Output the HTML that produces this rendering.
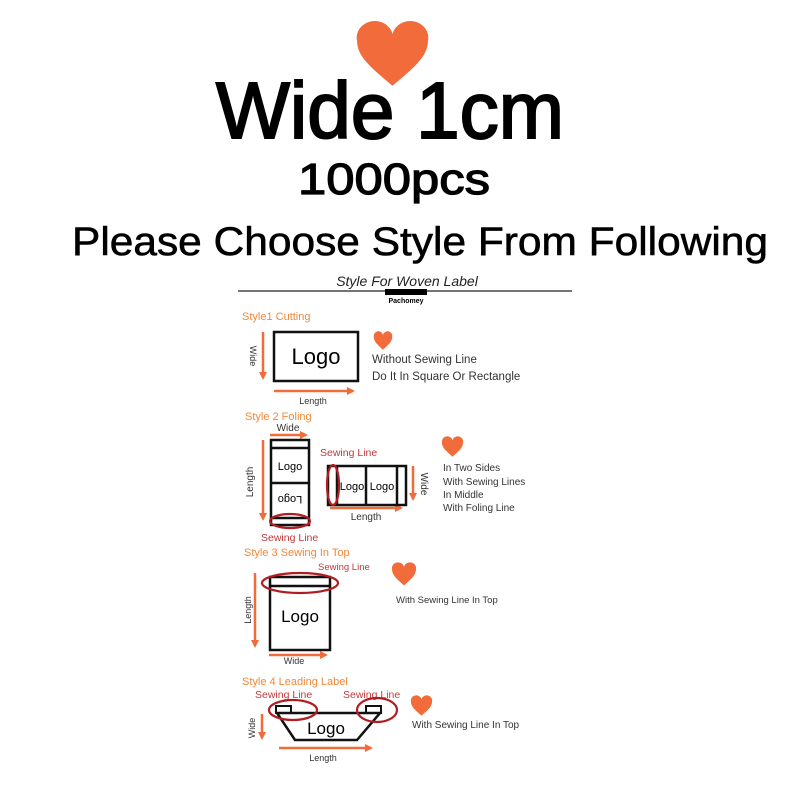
<!DOCTYPE html>
<html><head><meta charset="utf-8"><style>
html,body{margin:0;padding:0;background:#fff;width:800px;height:800px;overflow:hidden}
svg{display:block}
text{font-family:"Liberation Sans",sans-serif}
</style></head><body>
<svg width="800" height="800" viewBox="0 0 800 800" xmlns="http://www.w3.org/2000/svg">
<defs>
<path id="h" d="M50,94 C22,68 4,52 4,30 A23,23 0 0 1 50,20 A23,23 0 0 1 96,30 C96,52 78,68 50,94Z" fill="#f26b3a"/>
<marker id="a" markerWidth="10" markerHeight="10" refX="6" refY="4" orient="auto" markerUnits="userSpaceOnUse"><path d="M0,0 L8,4 L0,8 Z" fill="#f26b3a"/></marker>
</defs>
<use href="#h" transform="translate(354,20) scale(0.77,0.7)"/>
<text x="390" y="138" font-size="80" text-anchor="middle" textLength="348" lengthAdjust="spacingAndGlyphs" fill="#000" stroke="#000" stroke-width="2">Wide 1cm</text>
<text x="394" y="194" font-size="44" text-anchor="middle" textLength="192" lengthAdjust="spacingAndGlyphs" fill="#000" stroke="#000" stroke-width="1.2">1000pcs</text>
<text x="420" y="255" font-size="40" text-anchor="middle" textLength="696" lengthAdjust="spacingAndGlyphs" fill="#000" stroke="#000" stroke-width="0.6">Please Choose Style From Following</text>

<text x="407" y="286" font-size="14" font-style="italic" text-anchor="middle" fill="#222">Style For Woven Label</text>
<line x1="238" y1="291" x2="572" y2="291" stroke="#222" stroke-width="1.2"/>
<rect x="385" y="289" width="42" height="6" fill="#000"/>
<text x="406" y="303" font-size="7" font-weight="bold" text-anchor="middle">Pachomey</text>

<g fill="none" stroke="#f26b3a" stroke-width="2.5" marker-end="url(#a)">
<line x1="263" y1="332" x2="263" y2="378"/>
<line x1="274" y1="391" x2="353" y2="391"/>
<line x1="270" y1="435" x2="306" y2="435"/>
<line x1="263" y1="440" x2="263" y2="519"/>
<line x1="413" y1="466" x2="413" y2="499"/>
<line x1="330" y1="508" x2="401" y2="508"/>
<line x1="255" y1="573" x2="255" y2="646"/>
<line x1="269" y1="655" x2="326" y2="655"/>
<line x1="262" y1="714" x2="262" y2="738"/>
<line x1="279" y1="748" x2="371" y2="748"/>
</g>
<g fill="#f0883a" font-size="11">
<text x="242" y="320">Style1 Cutting</text>
<text x="245" y="420">Style 2 Foling</text>
<text x="244" y="556">Style 3 Sewing In Top</text>
<text x="242" y="685">Style 4 Leading Label</text>
</g>
<g fill="#c0393a" font-size="10.5">
<text x="320" y="456">Sewing Line</text>
<text x="261" y="541">Sewing Line</text>
<text x="318" y="570" font-size="9.5">Sewing Line</text>
<text x="255" y="698">Sewing Line</text>
<text x="343" y="698">Sewing Line</text>
</g>
<g fill="#333" font-size="9">
<text x="313" y="404" text-anchor="middle">Length</text>
<text x="288" y="431" text-anchor="middle" font-size="10">Wide</text>
<text x="366" y="520" text-anchor="middle" font-size="10">Length</text>
<text x="294" y="664" text-anchor="middle">Wide</text>
<text x="323" y="761" text-anchor="middle">Length</text>
<text transform="translate(250,356) rotate(90)" text-anchor="middle">Wide</text>
<text transform="translate(253,482) rotate(-90)" text-anchor="middle" font-size="10">Length</text>
<text transform="translate(421,484) rotate(90)" text-anchor="middle" font-size="10">Wide</text>
<text transform="translate(251,610) rotate(-90)" text-anchor="middle">Length</text>
<text transform="translate(255,728) rotate(-90)" text-anchor="middle">Wide</text>
</g>
<g fill="none" stroke="#111" stroke-width="2.5">
<rect x="274" y="332" width="84" height="49"/>
<rect x="271" y="440" width="38" height="85"/>
<line x1="271" y1="448" x2="309" y2="448"/><line x1="271" y1="483" x2="309" y2="483"/><line x1="271" y1="518" x2="309" y2="518"/>
<rect x="328" y="466" width="78" height="39"/>
<line x1="337" y1="466" x2="337" y2="505"/><line x1="366" y1="466" x2="366" y2="505"/><line x1="397" y1="466" x2="397" y2="505"/>
<rect x="270" y="577" width="60" height="73"/>
<line x1="270" y1="586" x2="330" y2="586"/>
<path d="M277,713 L380,713 L357,740 L295,740 Z"/>
<rect x="276" y="706" width="15" height="7" stroke-width="2"/>
<rect x="366" y="706" width="15" height="7" stroke-width="2"/>
</g>
<g fill="none" stroke="#b01e24" stroke-width="2.2">
<ellipse cx="290" cy="521" rx="20" ry="7"/>
<ellipse cx="333" cy="485" rx="6" ry="20"/>
<ellipse cx="300" cy="583" rx="38" ry="10"/>
<ellipse cx="293" cy="710" rx="24" ry="10"/>
<ellipse cx="377" cy="710" rx="20" ry="12"/>
</g>
<g fill="#000" text-anchor="middle">
<text x="316" y="364" font-size="22">Logo</text>
<text x="290" y="470" font-size="11">Logo</text>
<text transform="translate(290,496) rotate(180)" font-size="11">Logo</text>
<text x="352" y="490" font-size="11">Logo</text>
<text x="382" y="490" font-size="11">Logo</text>
<text x="300" y="622" font-size="17">Logo</text>
<text x="326" y="734" font-size="17">Logo</text>
</g>
<g fill="#333" font-size="11.5">
<text x="372" y="363">Without Sewing Line</text>
<text x="372" y="380">Do It In Square Or Rectangle</text>
<text x="443" y="471" font-size="10">In Two Sides</text>
<text x="443" y="485" font-size="10">With Sewing Lines</text>
<text x="443" y="498" font-size="10">In Middle</text>
<text x="443" y="511" font-size="10">With Foling Line</text>
<text x="396" y="603" font-size="9.5">With Sewing Line In Top</text>
<text x="412" y="728" font-size="10">With Sewing Line In Top</text>
</g>
<use href="#h" transform="translate(373,331) scale(0.2,0.2)"/>
<use href="#h" transform="translate(441,436) scale(0.23,0.22)"/>
<use href="#h" transform="translate(391,562) scale(0.26,0.25)"/>
<use href="#h" transform="translate(410,695) scale(0.23,0.22)"/>
</svg>
</body></html>
